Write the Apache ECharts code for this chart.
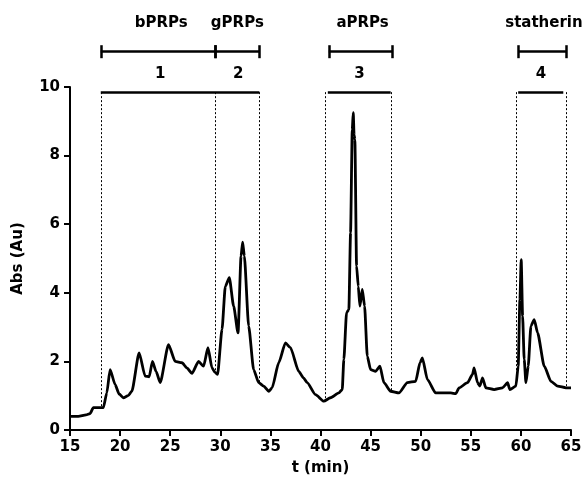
<!DOCTYPE html>
<html>
<head>
<meta charset="utf-8">
<script src="https://cdn.jsdelivr.net/npm/echarts@6/dist/echarts.min.js"></script>
<style>html,body{margin:0;padding:0;background:#fff}#c{width:587px;height:486px}</style>
</head>
<body>
<div id="c"></div>
<script>
// Chromatogram: time (min) and absorbance (Au)
const time = [15.0,15.83,16.6,17.0,17.33,18.33,18.67,19.0,19.5,19.9,20.33,20.8,21.17,21.9,22.5,22.9,23.23,23.6,24.0,24.83,25.5,26.17,26.7,27.17,27.83,28.33,28.77,29.17,29.5,29.73,30.17,30.5,30.9,31.33,31.77,32.07,32.23,32.4,32.83,33.33,33.83,34.33,34.83,35.17,35.83,36.5,37.0,37.83,38.3,38.67,39.5,40.33,41.0,41.83,42.17,42.33,42.6,42.83,43.0,43.17,43.27,43.35,43.43,43.6,43.77,43.93,44.17,44.4,44.67,45.0,45.5,45.93,46.33,47.0,47.83,48.67,49.5,49.93,50.17,50.67,51.5,53.0,53.5,53.83,54.67,55.17,55.33,55.67,55.9,56.17,56.5,57.33,58.17,58.67,58.9,59.5,59.73,59.9,60.03,60.17,60.33,60.5,60.73,61.0,61.33,61.67,62.33,63.0,63.67,64.5,65.0];
const absorbance = [0.40,0.40,0.44,0.48,0.65,0.65,1.08,1.76,1.33,1.05,0.94,1.0,1.13,2.25,1.57,1.55,2.0,1.7,1.38,2.49,2.0,1.96,1.8,1.65,2.0,1.86,2.40,1.81,1.67,1.62,2.93,4.19,4.44,3.61,2.83,5.07,5.48,5.07,3.03,1.76,1.38,1.28,1.13,1.23,1.96,2.54,2.40,1.71,1.52,1.38,1.03,0.84,0.94,1.08,1.18,2.06,3.42,3.51,5.75,8.76,9.25,8.6,8.47,4.78,4.19,3.61,4.10,3.61,2.15,1.76,1.71,1.86,1.38,1.13,1.08,1.38,1.42,1.96,2.10,1.47,1.08,1.08,1.06,1.23,1.38,1.62,1.81,1.38,1.28,1.52,1.23,1.18,1.23,1.38,1.18,1.28,1.86,3.80,4.97,3.32,2.06,1.38,1.86,3.03,3.22,2.83,1.86,1.42,1.28,1.23,1.23];

// Collected fractions
const edgeTimes = [18.07, 29.5, 33.9, 40.5, 47.07, 59.5, 64.5];
const edgeLevels = [0.65, 1.67, 1.38, 0.84, 1.13, 1.28, 1.23];
const fractionTopLevel = 9.85;
const fractionBars = [[18.07, 33.9], [40.73, 47.0], [59.73, 64.23]];
const fractionNumbers = ['1', '2', '3', '4'];
const fractionNumberTimes = [24.0, 31.8, 43.9, 62.0];

// Protein groups
const groupNames = ['bPRPs', 'gPRPs', 'aPRPs', 'statherin'];
const groupNameTimes = [24.1, 31.7, 44.2, 62.3];
const groupBrackets = [[18.07, 29.5], [29.5, 33.9], [40.83, 47.17], [59.73, 64.5]];

const xTicks = [15, 20, 25, 30, 35, 40, 45, 50, 55, 60, 65];
const yTicks = [0, 2, 4, 6, 8, 10];

const FONT = 'DejaVu Sans';
const chart = echarts.init(document.getElementById('c'), null, {renderer: 'canvas'});

const dotted = [];
edgeTimes.forEach((t, i) => {
  dotted.push([{coord: [t, fractionTopLevel]}, {coord: [t, edgeLevels[i]]}]);
});
const topBars = fractionBars.map(b => [{coord: [b[0], fractionTopLevel]}, {coord: [b[1], fractionTopLevel]}]);

// bracket geometry in the upper (annotation) grid, y in pixels from top
const BR_Y = 51.7, BR_T = 6.5;
const bracketLines = [];
groupBrackets.forEach(b => {
  bracketLines.push([{coord: [b[0], BR_Y]}, {coord: [b[1], BR_Y]}]);
  bracketLines.push([{coord: [b[0], BR_Y - BR_T]}, {coord: [b[0], BR_Y + BR_T]}]);
  bracketLines.push([{coord: [b[1], BR_Y - BR_T]}, {coord: [b[1], BR_Y + BR_T]}]);
});

const labelStyle = {fontFamily: FONT, fontWeight: 'bold', fontSize: 15, color: '#000', opacity: 1};

const option = {
  animation: false,
  backgroundColor: '#fff',
  grid: [
    {left: 70, right: 16, top: 87, bottom: 56, containLabel: false},
    {left: 70, right: 16, top: 0, height: 87, containLabel: false}
  ],
  xAxis: [
    {
      type: 'value', gridIndex: 0, min: 15, max: 65, interval: 5,
      name: 't (min)', nameLocation: 'middle', nameGap: 31,
      nameTextStyle: {fontFamily: FONT, fontWeight: 'bold', fontSize: 15, color: '#000'},
      axisLine: {show: true, onZero: false, lineStyle: {color: '#000', width: 2}},
      axisTick: {show: true, length: 6, lineStyle: {color: '#000', width: 2}},
      axisLabel: {margin: 10, fontFamily: FONT, fontWeight: 'bold', fontSize: 15, color: '#000',
        formatter: v => xTicks.includes(v) ? String(v) : ''},
      splitLine: {show: false}
    },
    {type: 'value', gridIndex: 1, min: 15, max: 65, show: false}
  ],
  yAxis: [
    {
      type: 'value', gridIndex: 0, min: 0, max: 10, interval: 2,
      name: 'Abs (Au)', nameLocation: 'middle', nameGap: 44,
      nameTextStyle: {fontFamily: FONT, fontWeight: 'bold', fontSize: 15, color: '#000'},
      axisLine: {show: true, lineStyle: {color: '#000', width: 2}},
      axisTick: {show: true, length: 6, lineStyle: {color: '#000', width: 2}},
      axisLabel: {margin: 10, fontFamily: FONT, fontWeight: 'bold', fontSize: 15, color: '#000',
        formatter: v => yTicks.includes(v) ? String(v) : ''},
      splitLine: {show: false}
    },
    {type: 'value', gridIndex: 1, min: 0, max: 87, inverse: true, show: false}
  ],
  series: [
    {
      type: 'line', xAxisIndex: 0, yAxisIndex: 0,
      data: time.map((t, i) => [t, absorbance[i]]),
      showSymbol: false, symbol: 'none',
      smooth: 0.2, smoothMonotone: 'x',
      lineStyle: {color: '#000', width: 2.8, join: 'round'},
      markLine: {
        silent: true, symbol: ['none', 'none'], label: {show: false}, animation: false,
        data: [
          ...dotted.map(d => [{...d[0], lineStyle: {type: [2, 2], width: 1, color: '#000'}}, d[1]]),
          ...topBars.map(d => [{...d[0], lineStyle: {type: 'solid', width: 2.5, color: '#000'}}, d[1]])
        ]
      },
      z: 3
    },
    {
      type: 'line', xAxisIndex: 1, yAxisIndex: 1, data: [], symbol: 'none',
      markLine: {
        silent: true, symbol: ['none', 'none'], label: {show: false}, animation: false,
        lineStyle: {type: 'solid', width: 2.5, color: '#000'},
        data: bracketLines
      }
    },
    {
      type: 'scatter', xAxisIndex: 1, yAxisIndex: 1, symbolSize: 0, silent: true,
      itemStyle: {opacity: 1},
      data: groupNames.map((n, i) => ({name: n, value: [groupNameTimes[i], 23]})),
      label: {show: true, position: 'inside', formatter: p => p.name, ...labelStyle}
    },
    {
      type: 'scatter', xAxisIndex: 1, yAxisIndex: 1, symbolSize: 0, silent: true,
      itemStyle: {opacity: 1},
      data: fractionNumbers.map((n, i) => ({name: n, value: [fractionNumberTimes[i], 74]})),
      label: {show: true, position: 'inside', formatter: p => p.name, ...labelStyle}
    }
  ]
};
chart.setOption(option);
</script>
</body>
</html>
